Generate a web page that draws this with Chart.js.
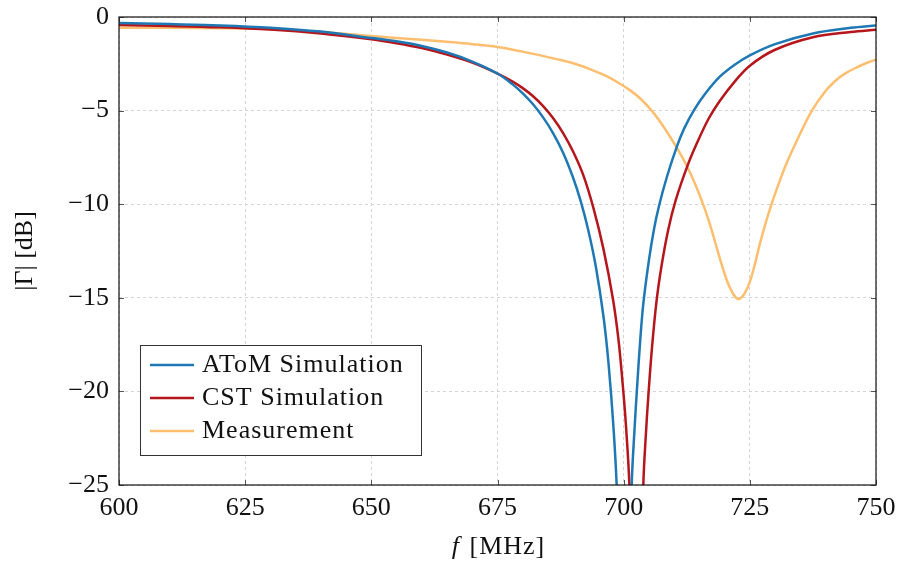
<!DOCTYPE html>
<html>
<head>
<meta charset="utf-8">
<script src="https://cdn.jsdelivr.net/npm/chart.js@4/dist/chart.umd.min.js"></script>
<style>
  body { margin: 0; background: #fff; }
  canvas { display: block; }
</style>
</head>
<body>
<canvas id="graficoGamma" width="898" height="565"></canvas>
<script>
// frequency in MHz, |Gamma| in dB (the dips go below the axis floor and get clipped)
const freqAtom = [600, 610, 620, 630, 640, 650, 655, 660, 665, 670, 675, 678, 680, 682, 684, 686, 688, 690, 691.5, 693, 694.5, 696, 697, 698, 698.7, 700.2,
  701.6, 702.2, 702.7, 703.3, 703.9, 705, 706, 707, 708.5, 710.5, 712, 714, 716, 719, 722, 725, 730, 737.5, 745, 750];
const gammaAtom = [-0.32, -0.38, -0.45, -0.57, -0.78, -1.12, -1.3, -1.55, -1.9, -2.38, -3.02, -3.6, -4.08, -4.65, -5.35, -6.2, -7.25, -8.6, -9.85, -11.4, -13.35, -16.0, -18.5, -22.0, -25.7, -45,
  -25.0, -21.8, -19.6, -17.2, -15.3, -13.0, -11.35, -10.1, -8.6, -6.95, -5.95, -4.95, -4.15, -3.2, -2.55, -2.05, -1.45, -0.88, -0.58, -0.45];

const freqCst = [600, 610, 620, 630, 640, 650, 655, 660, 665, 670, 675, 678, 680, 682, 684, 686, 688, 690, 692, 694, 696, 697.9, 699, 699.8, 700.5, 701.2, 702.6,
  703.9, 704.4, 704.9, 705.6, 706.5, 707.5, 708.8, 710.3, 712.6, 714.5, 716.8, 719, 722, 725, 730, 737.5, 745, 750];
const gammaCst = [-0.43, -0.48, -0.55, -0.67, -0.88, -1.19, -1.4, -1.66, -2.01, -2.44, -3.02, -3.45, -3.8, -4.22, -4.75, -5.4, -6.2, -7.2, -8.45, -10.2, -12.4, -15.1, -17.3, -19.6, -22.0, -25.5, -45,
  -25.0, -22.3, -20.2, -17.7, -15.2, -13.3, -11.4, -9.8, -7.98, -6.75, -5.45, -4.5, -3.45, -2.6, -1.75, -1.08, -0.8, -0.68];

const freqMedicao = [600, 610, 620, 630, 640, 650, 660, 663.6, 670, 675, 680, 686.7, 690, 693.3, 696.5, 699.2, 701.5, 703.4, 705.8, 708, 710.5, 712.6, 714.2, 715.8,
  717, 718.2, 719.4, 720.5, 721.5, 722.2, 722.7, 723.2, 724, 725, 726, 727, 728.2, 729.3, 730.8, 732.3, 734.5, 737.3, 740, 742.2, 744, 746.1, 748, 750];
const gammaMedicao = [-0.57, -0.58, -0.6, -0.65, -0.8, -1.02, -1.22, -1.3, -1.45, -1.6, -1.85, -2.25, -2.47, -2.78, -3.15, -3.55, -3.96, -4.38, -5.08, -5.9, -6.97, -8.0, -8.95, -10.05,
  -11.0, -12.1, -13.2, -14.1, -14.7, -14.98, -15.07, -15.02, -14.75, -14.15, -13.2, -12.1, -10.95, -10.0, -8.85, -7.8, -6.5, -5.0, -3.95, -3.35, -3.0, -2.7, -2.47, -2.28];

const xTicks = [600, 625, 650, 675, 700, 725, 750];
const yTicks = [0, -5, -10, -15, -20, -25];

const fonte = '"Liberation Serif", "DejaVu Serif", serif';
const tamanhoFonte = 26;

function pontos(freq, valores) {
  return freq.map((f, i) => ({ x: f, y: valores[i] }));
}

function serie(label, cor, freq, valores) {
  return {
    label: label,
    data: pontos(freq, valores),
    borderColor: cor,
    backgroundColor: cor,
    borderWidth: 2.5,
    pointRadius: 0,
    tension: 0.35,
    clip: 0
  };
}

// frame, inner tick marks, x title and legend box drawn on top
const molduraPlugin = {
  id: 'moldura',
  afterDatasetsDraw(chart) {
    const ctx = chart.ctx;
    const a = chart.chartArea;
    const xs = chart.scales.x;
    const ys = chart.scales.y;

    ctx.save();
    ctx.strokeStyle = '#555';
    ctx.lineWidth = 1;
    ctx.beginPath();
    xTicks.forEach(v => {
      const px = Math.round(xs.getPixelForValue(v)) + 0.5;
      ctx.moveTo(px, a.bottom); ctx.lineTo(px, a.bottom - 5);
      ctx.moveTo(px, a.top); ctx.lineTo(px, a.top + 5);
    });
    yTicks.forEach(v => {
      const py = Math.round(ys.getPixelForValue(v)) + 0.5;
      ctx.moveTo(a.left, py); ctx.lineTo(a.left + 5, py);
      ctx.moveTo(a.right, py); ctx.lineTo(a.right - 5, py);
    });
    ctx.stroke();

    ctx.strokeStyle = '#111';
    ctx.lineWidth = 1.2;
    ctx.strokeRect(a.left, a.top, a.right - a.left, a.bottom - a.top);

    // x axis title: italic f followed by the unit
    ctx.fillStyle = '#111';
    ctx.textBaseline = 'middle';
    ctx.textAlign = 'left';
    ctx.letterSpacing = '1px';
    const fItal = 'italic ' + tamanhoFonte + 'px ' + fonte;
    const fNormal = tamanhoFonte + 'px ' + fonte;
    ctx.font = fItal;
    const wF = ctx.measureText('f').width;
    ctx.font = fNormal;
    const wResto = ctx.measureText(' [MHz]').width;
    const x0 = (a.left + a.right) / 2 - (wF + wResto) / 2;
    ctx.font = fItal;
    ctx.fillText('f', x0, 547);
    ctx.font = fNormal;
    ctx.fillText(' [MHz]', x0 + wF + 2, 547);

    // legend
    const caixa = { x: a.left + 21, y: a.bottom - 140, w: 281, h: 110 };
    ctx.fillStyle = '#fff';
    ctx.fillRect(caixa.x, caixa.y, caixa.w, caixa.h);
    ctx.strokeStyle = '#333';
    ctx.lineWidth = 1;
    ctx.strokeRect(caixa.x + 0.5, caixa.y + 0.5, caixa.w, caixa.h);
    chart.data.datasets.forEach((ds, i) => {
      const yy = caixa.y + 20 + i * 33;
      ctx.strokeStyle = ds.borderColor;
      ctx.lineWidth = 2.5;
      ctx.beginPath();
      ctx.moveTo(caixa.x + 10, yy);
      ctx.lineTo(caixa.x + 54, yy);
      ctx.stroke();
      ctx.fillStyle = '#111';
      ctx.font = fNormal;
      ctx.fillText(ds.label, caixa.x + 62, yy);
    });
    ctx.restore();
  }
};

const ctx = document.getElementById('graficoGamma').getContext('2d');

new Chart(ctx, {
  type: 'line',
  data: {
    datasets: [
      serie('AToM Simulation', '#1f78b4', freqAtom, gammaAtom),
      serie('CST Simulation', '#b5161c', freqCst, gammaCst),
      serie('Measurement', '#fdbf6f', freqMedicao, gammaMedicao)
    ]
  },
  options: {
    responsive: false,
    animation: false,
    layout: { padding: { top: 17, right: 22, left: 0, bottom: 0 } },
    plugins: {
      legend: { display: false },
      tooltip: { enabled: false }
    },
    scales: {
      x: {
        type: 'linear',
        min: 600,
        max: 750,
        afterFit(scale) {
          scale.height = 80;
          scale.paddingLeft = 0;
          scale.paddingRight = 0;
        },
        afterBuildTicks(scale) { scale.ticks = xTicks.map(v => ({ value: v })); },
        ticks: {
          color: '#111',
          padding: 8,
          maxRotation: 0,
          font: { family: fonte, size: tamanhoFonte }
        },
        grid: { color: '#d4d4d4', drawTicks: false },
        border: { display: false, dash: [3, 3] }
      },
      y: {
        type: 'linear',
        min: -25,
        max: 0,
        afterFit(scale) {
          scale.width = 119;
          scale.paddingTop = 0;
          scale.paddingBottom = 0;
        },
        afterBuildTicks(scale) { scale.ticks = yTicks.map(v => ({ value: v })); },
        ticks: {
          color: '#111',
          padding: 10,
          font: { family: fonte, size: tamanhoFonte },
          callback: v => (v < 0 ? '\u2212' + Math.abs(v) : String(v))
        },
        grid: { color: '#d4d4d4', drawTicks: false },
        border: { display: false, dash: [3, 3] },
        title: {
          display: true,
          text: '|Γ| [dB]',
          color: '#111',
          padding: { top: 10, bottom: 0 },
          font: { family: fonte, size: tamanhoFonte }
        }
      }
    }
  },
  plugins: [molduraPlugin]
});
</script>
</body>
</html>
